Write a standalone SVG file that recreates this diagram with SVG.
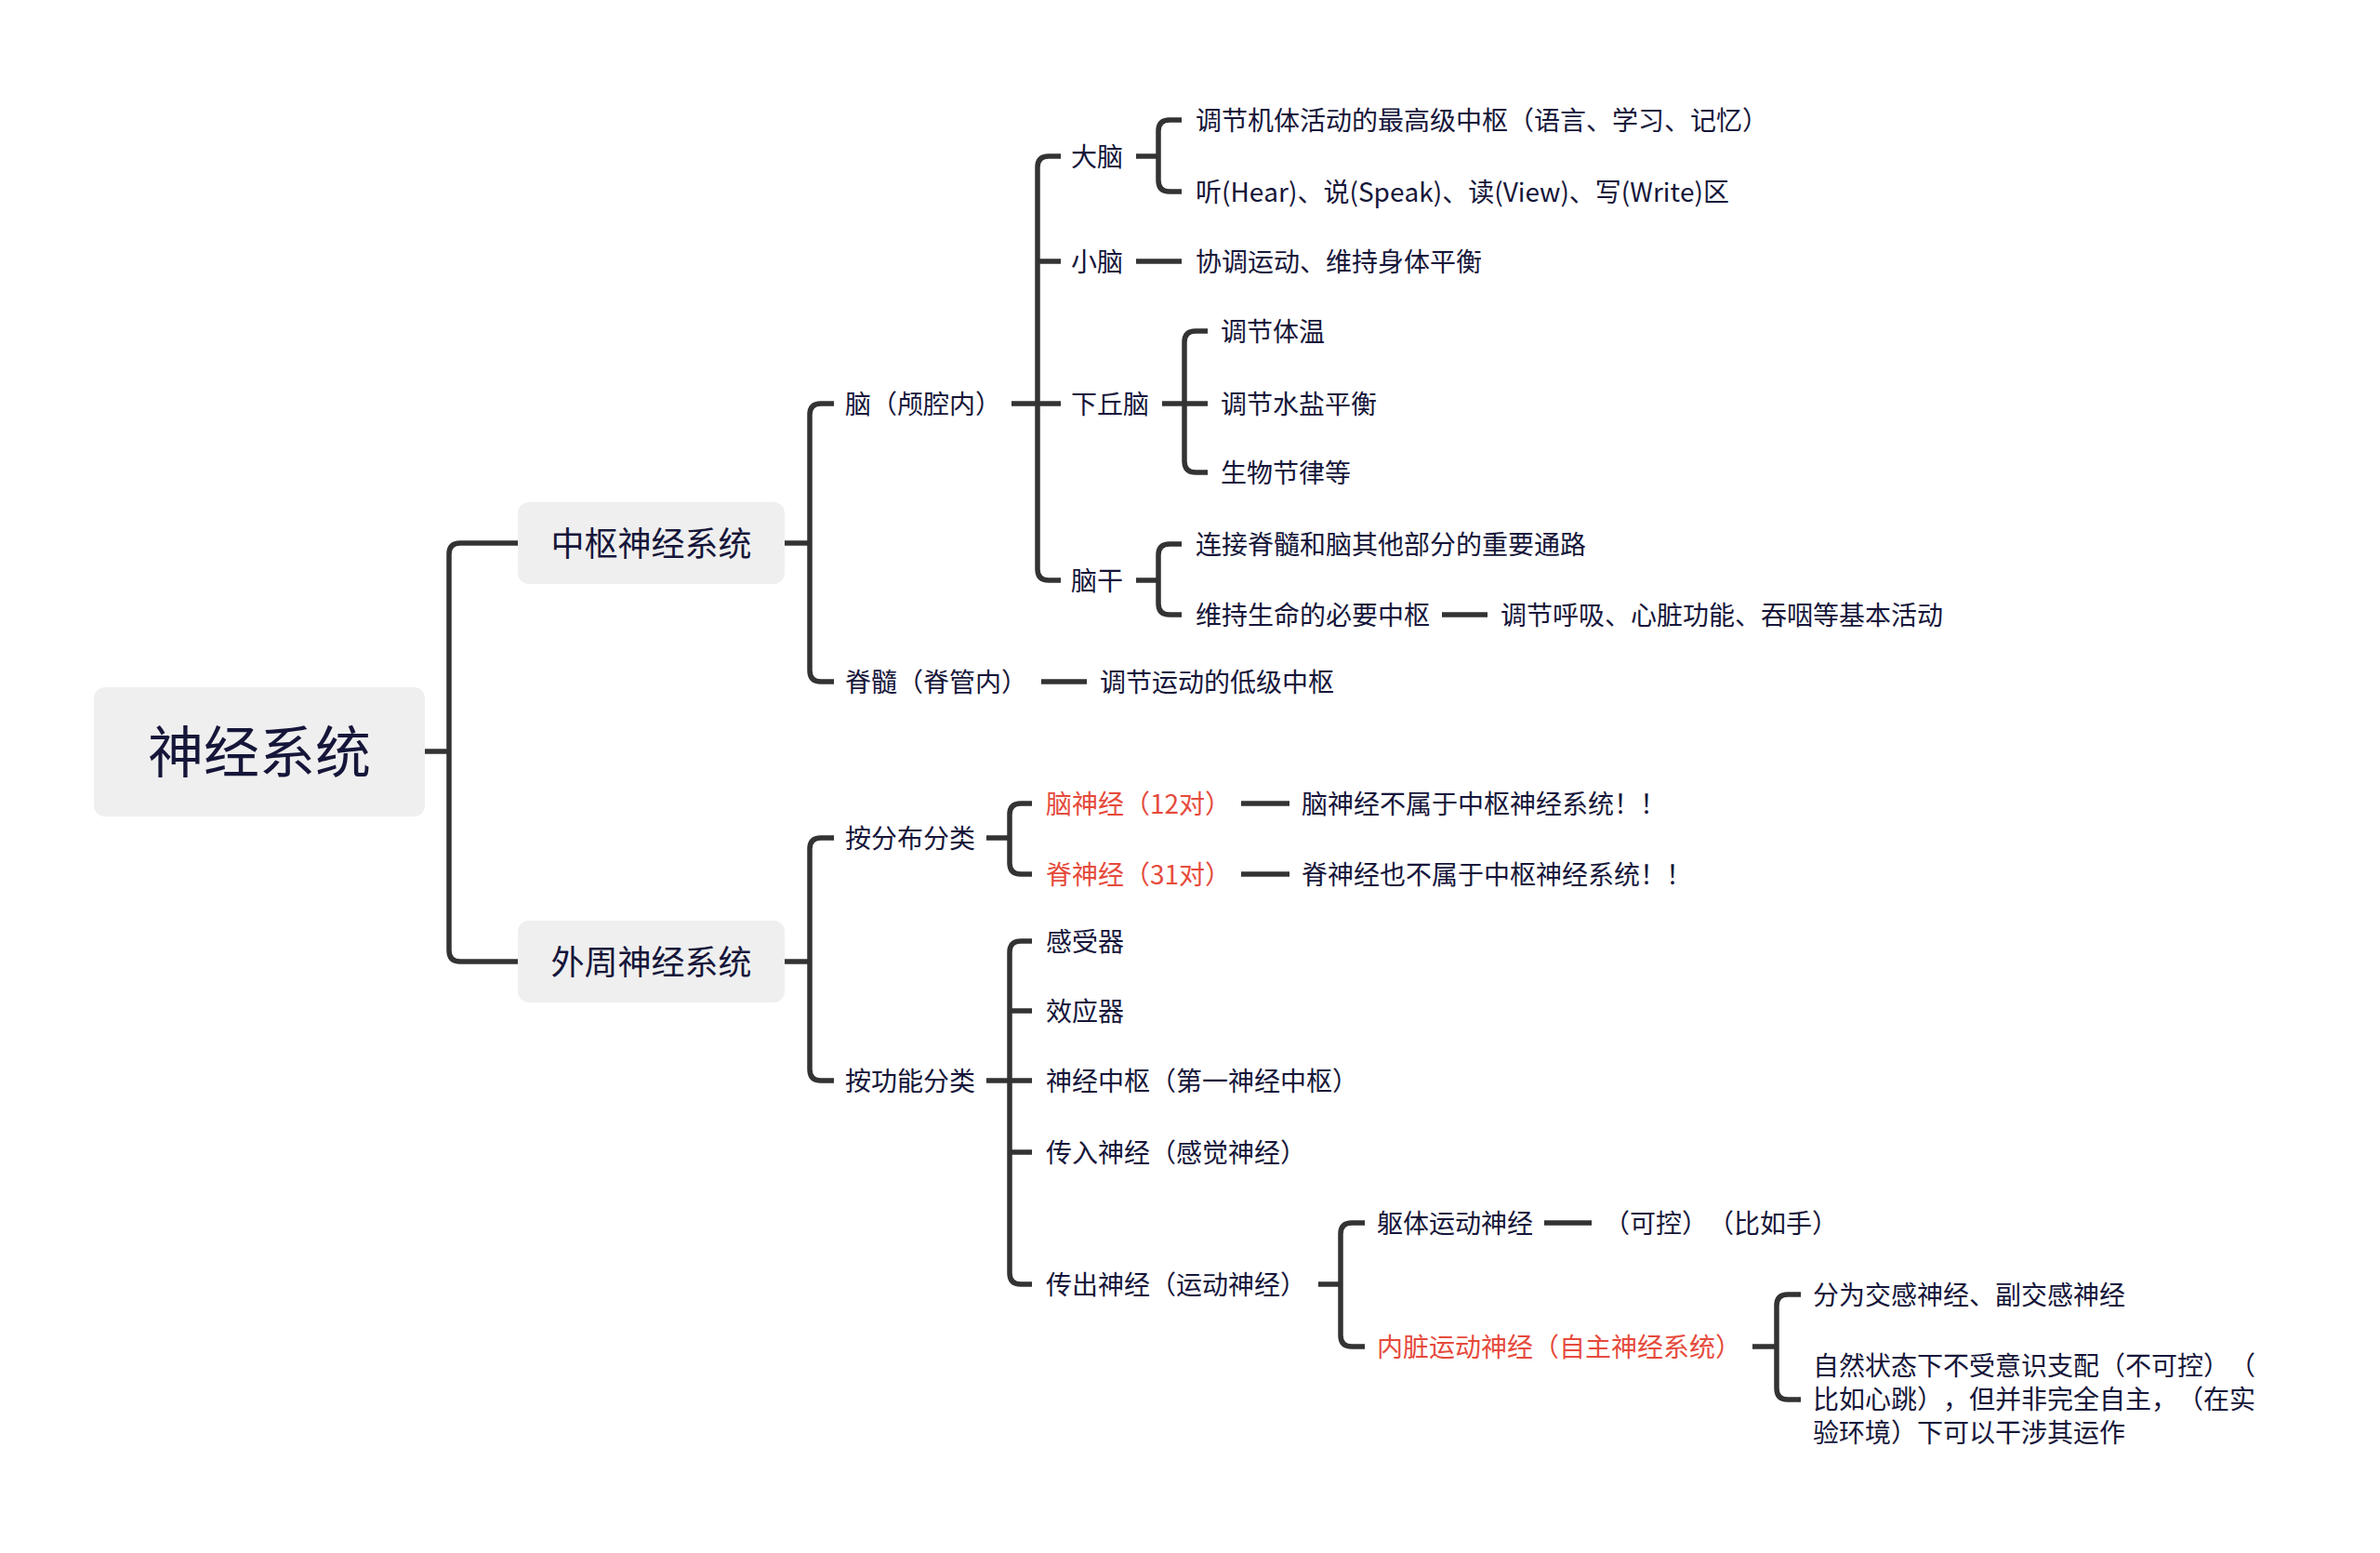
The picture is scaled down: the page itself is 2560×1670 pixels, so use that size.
<svg xmlns="http://www.w3.org/2000/svg" width="2560" height="1670" viewBox="0 0 2560 1670">
<style>
.t{font-family:"Noto Sans CJK SC","Noto Sans",sans-serif;font-size:28px;fill:#16163a;text-spacing-trim:space-all;font-feature-settings:"chws" 0,"halt" 0;font-kerning:none}
.red{fill:#e64a3c}
.l1{font-size:36px;text-anchor:middle}
.root{font-size:60px;text-anchor:middle}
.box{fill:#efefef}
.c{fill:none;stroke:#333333;stroke-width:5.5}
</style>
<rect width="2560" height="1670" fill="#ffffff"/>
<g id="connectors">
<path class="c" d="M457,808 H483"/>
<path class="c" d="M557,584 H495 Q483,584 483,596 V1022 Q483,1034 495,1034 H557"/>
<path class="c" d="M844,584 H871"/>
<path class="c" d="M897,434 H883 Q871,434 871,446 V721 Q871,733 883,733 H897"/>
<path class="c" d="M1088,434 H1141"/>
<path class="c" d="M1141,168 H1128 Q1116,168 1116,180 V612 Q1116,624 1128,624 H1141"/>
<path class="c" d="M1116,281 H1141"/>
<path class="c" d="M1222,168 H1246"/>
<path class="c" d="M1271,129 H1258 Q1246,129 1246,141 V194 Q1246,206 1258,206 H1271"/>
<path class="c" d="M1222,281 H1271"/>
<path class="c" d="M1250,434 H1299"/>
<path class="c" d="M1299,356 H1286 Q1274,356 1274,368 V496 Q1274,508 1286,508 H1299"/>
<path class="c" d="M1222,624 H1246"/>
<path class="c" d="M1271,585 H1258 Q1246,585 1246,597 V649 Q1246,661 1258,661 H1271"/>
<path class="c" d="M1551,661 H1600"/>
<path class="c" d="M1120,733 H1169"/>
<path class="c" d="M844,1034 H871"/>
<path class="c" d="M897,901 H883 Q871,901 871,913 V1150 Q871,1162 883,1162 H897"/>
<path class="c" d="M1061,901 H1086"/>
<path class="c" d="M1110,864 H1098 Q1086,864 1086,876 V928 Q1086,940 1098,940 H1110"/>
<path class="c" d="M1335,864 H1387"/>
<path class="c" d="M1335,940 H1387"/>
<path class="c" d="M1061,1162 H1110"/>
<path class="c" d="M1110,1012 H1098 Q1086,1012 1086,1024 V1369 Q1086,1381 1098,1381 H1110"/>
<path class="c" d="M1086,1087 H1110"/>
<path class="c" d="M1086,1239 H1110"/>
<path class="c" d="M1418,1381 H1442"/>
<path class="c" d="M1468,1315 H1454 Q1442,1315 1442,1327 V1436 Q1442,1448 1454,1448 H1468"/>
<path class="c" d="M1661,1315 H1712"/>
<path class="c" d="M1885,1448 H1911"/>
<path class="c" d="M1937,1392 H1923 Q1911,1392 1911,1404 V1493 Q1911,1505 1923,1505 H1937"/>
</g>
<g id="n-root"><rect class="box" x="101" y="739" width="356" height="139" rx="12"/><text class="t root" x="279" y="831">神经系统</text></g>
<g id="n-cns"><rect class="box" x="557" y="540" width="287" height="88" rx="12"/><text class="t l1" x="700.5" y="598">中枢神经系统</text></g>
<g id="n-pns"><rect class="box" x="557" y="990" width="287" height="88" rx="12"/><text class="t l1" x="700.5" y="1048">外周神经系统</text></g>
<g id="n-brain"><text class="t" x="909" y="445">脑（颅腔内）</text></g>
<g id="n-spinal"><text class="t" x="909" y="744">脊髓（脊管内）</text></g>
<g id="n-dist"><text class="t" x="909" y="912">按分布分类</text></g>
<g id="n-func"><text class="t" x="909" y="1173">按功能分类</text></g>
<g id="n-cerebrum"><text class="t" x="1152" y="179">大脑</text></g>
<g id="n-cerebellum"><text class="t" x="1152" y="292">小脑</text></g>
<g id="n-hypo"><text class="t" x="1152" y="445">下丘脑</text></g>
<g id="n-stem"><text class="t" x="1152" y="635">脑干</text></g>
<g id="n-spinal-1"><text class="t" x="1183" y="744">调节运动的低级中枢</text></g>
<g id="n-cranial"><text class="t red" x="1125" y="875">脑神经（12对）</text></g>
<g id="n-spnerve"><text class="t red" x="1125" y="951">脊神经（31对）</text></g>
<g id="n-receptor"><text class="t" x="1125" y="1023">感受器</text></g>
<g id="n-effector"><text class="t" x="1125" y="1098">效应器</text></g>
<g id="n-center"><text class="t" x="1125" y="1173">神经中枢（第一神经中枢）</text></g>
<g id="n-afferent"><text class="t" x="1125" y="1250">传入神经（感觉神经）</text></g>
<g id="n-efferent"><text class="t" x="1125" y="1392">传出神经（运动神经）</text></g>
<g id="n-c1"><text class="t" x="1286" y="140">调节机体活动的最高级中枢（语言、学习、记忆）</text></g>
<g id="n-c2"><text class="t" x="1286" y="217">听(Hear)、说(Speak)、读(View)、写(Write)区</text></g>
<g id="n-cb1"><text class="t" x="1286" y="292">协调运动、维持身体平衡</text></g>
<g id="n-h1"><text class="t" x="1313" y="367">调节体温</text></g>
<g id="n-h2"><text class="t" x="1313" y="445">调节水盐平衡</text></g>
<g id="n-h3"><text class="t" x="1313" y="519">生物节律等</text></g>
<g id="n-s1"><text class="t" x="1286" y="596">连接脊髓和脑其他部分的重要通路</text></g>
<g id="n-s2"><text class="t" x="1286" y="672">维持生命的必要中枢</text></g>
<g id="n-s2a"><text class="t" x="1614" y="672">调节呼吸、心脏功能、吞咽等基本活动</text></g>
<g id="n-cr1"><text class="t" x="1400" y="875">脑神经不属于中枢神经系统！！</text></g>
<g id="n-sp1"><text class="t" x="1400" y="951">脊神经也不属于中枢神经系统！！</text></g>
<g id="n-somatic"><text class="t" x="1481" y="1326">躯体运动神经</text></g>
<g id="n-somatic-1"><text class="t" x="1725" y="1326">（可控）<tspan x="1837">（比如手）</tspan></text></g>
<g id="n-visceral"><text class="t red" x="1481" y="1459">内脏运动神经（自主神经系统）</text></g>
<g id="n-v1"><text class="t" x="1950" y="1403">分为交感神经、副交感神经</text></g>
<g id="n-v2"><text class="t" x="1950" y="1479">自然状态下不受意识支配（不可控）<tspan x="2398">（</tspan></text><text class="t" x="1950" y="1515">比如心跳）<tspan x="2090">，但并非完全自主，</tspan><tspan x="2342">（在实</tspan></text><text class="t" x="1950" y="1551">验环境）下可以干涉其运作</text></g>
</svg>
